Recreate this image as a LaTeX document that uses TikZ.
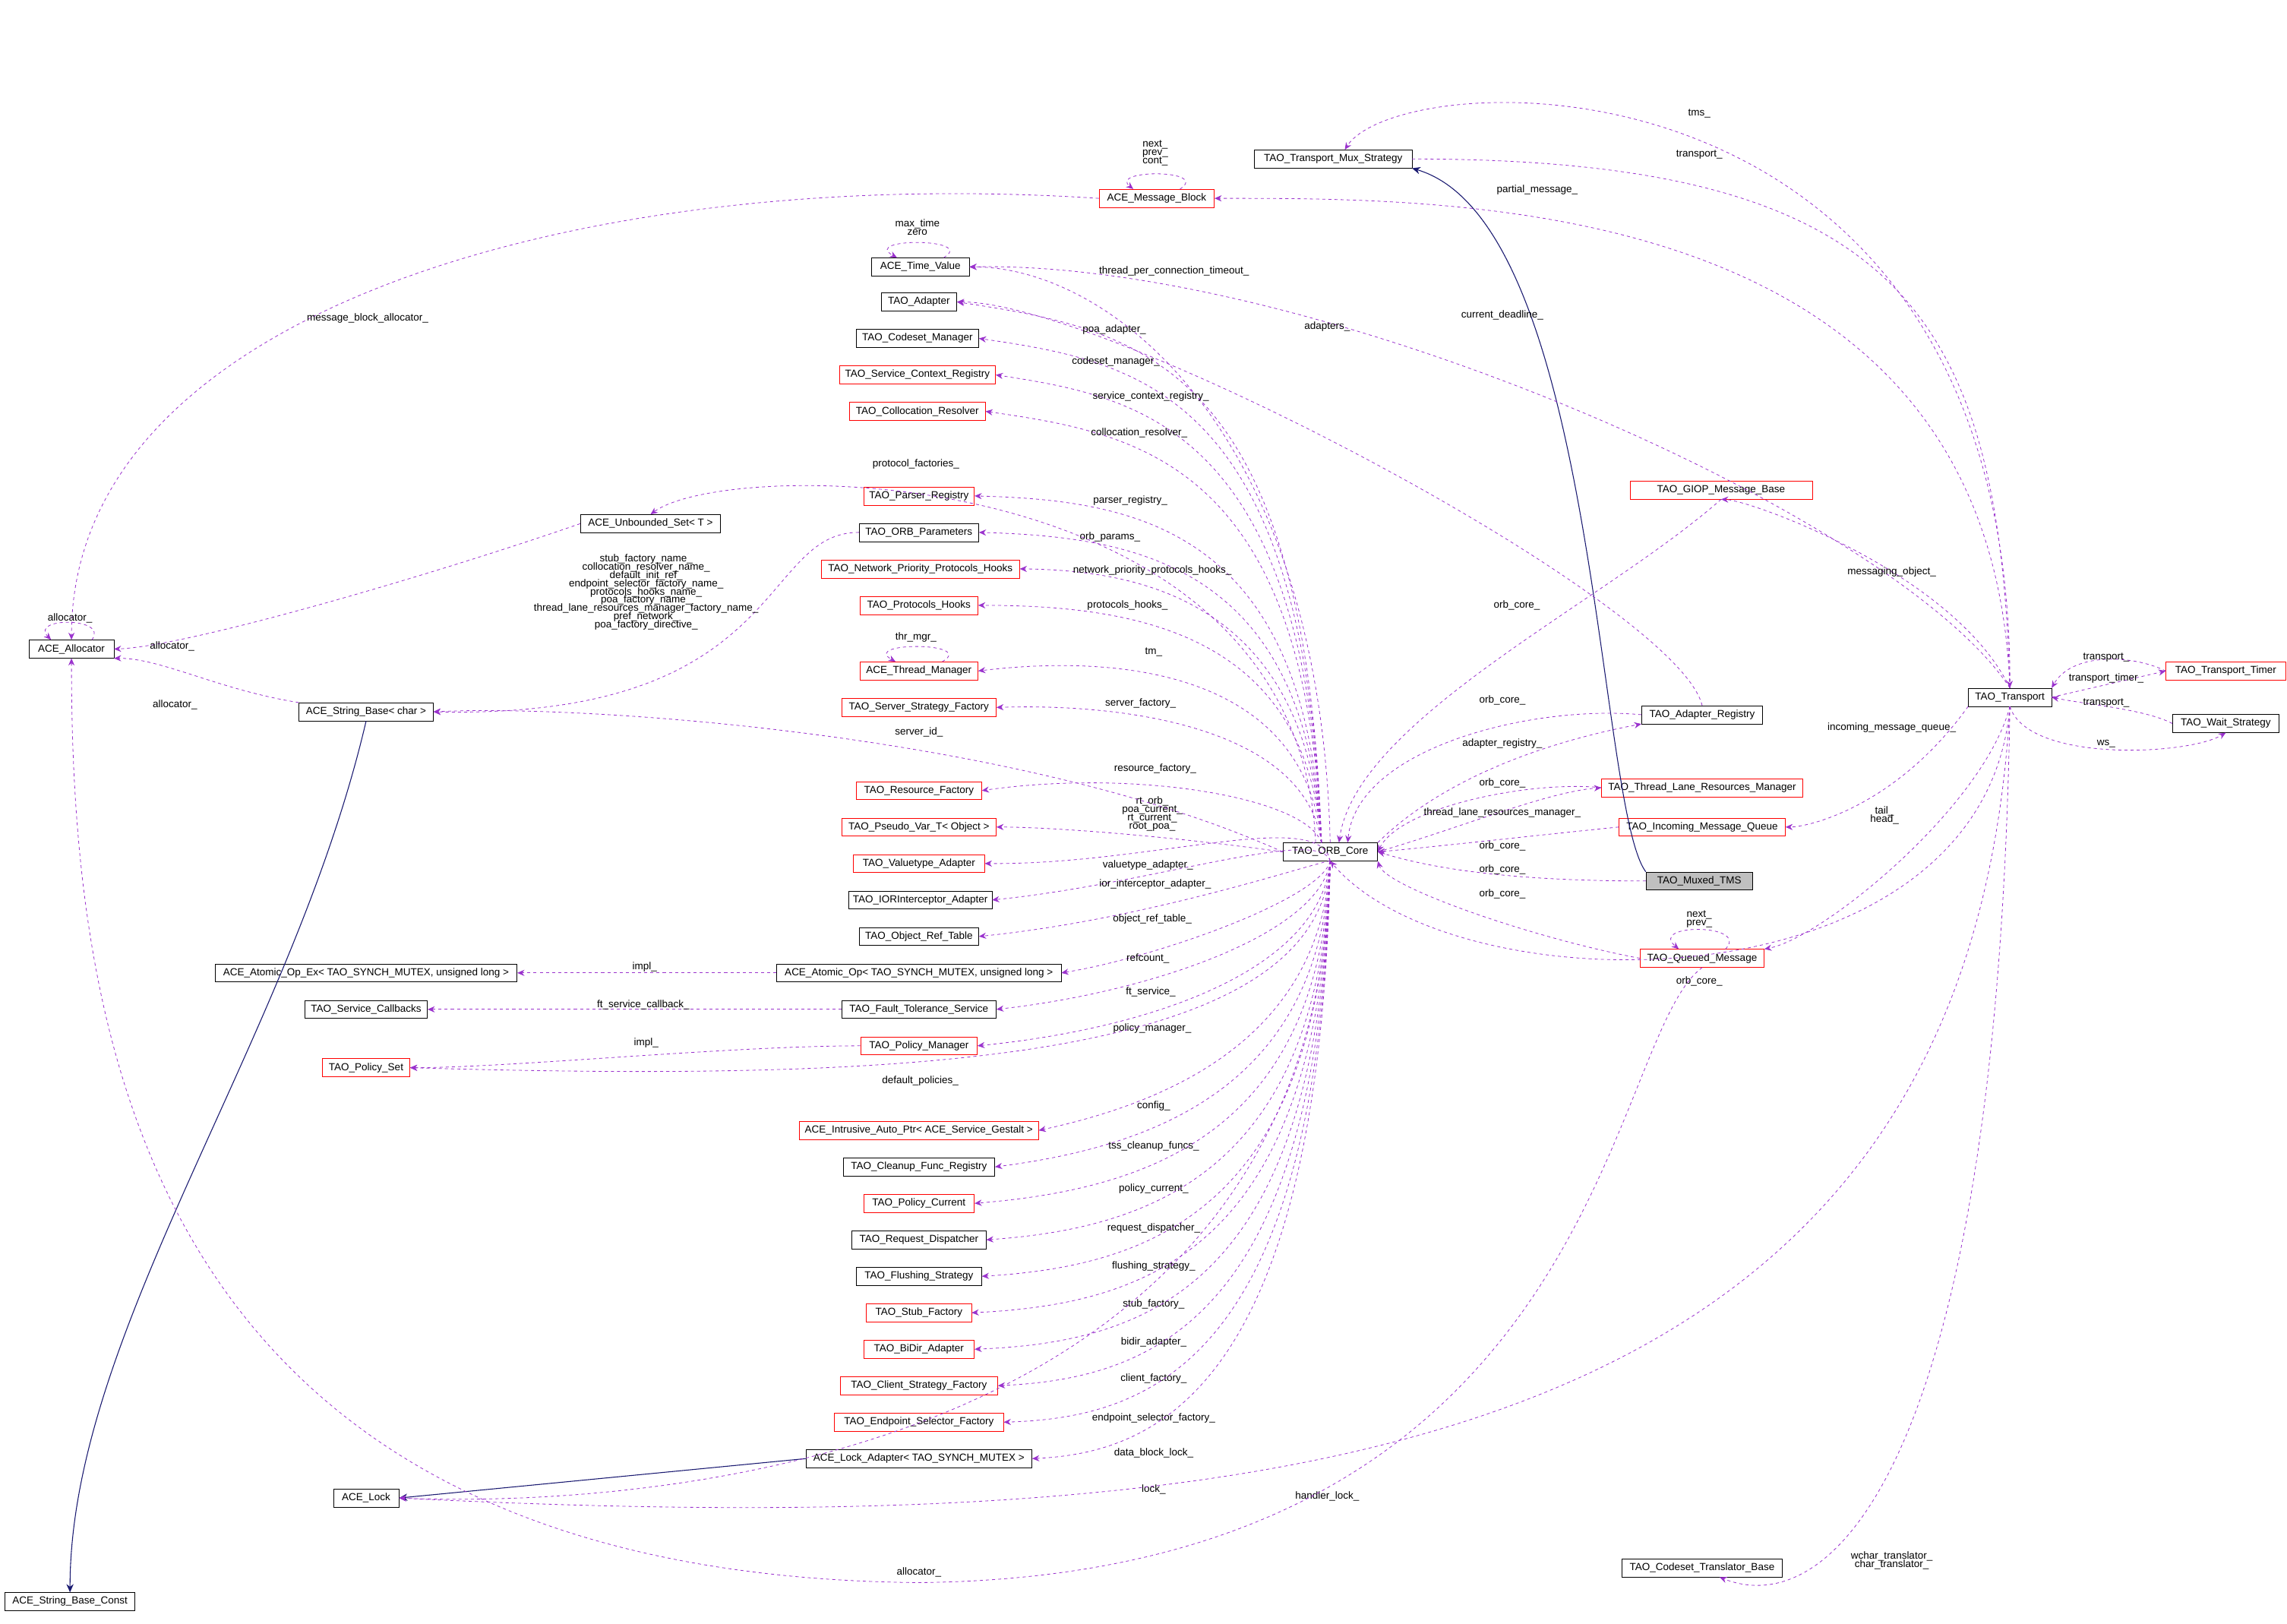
\documentclass[tikz,border=0pt]{standalone}
\usepackage{fontspec}
\setmainfont{Liberation Sans}
\usetikzlibrary{arrows.meta}
\definecolor{purp}{HTML}{9A32CD}
\definecolor{navyc}{HTML}{191970}
\newcommand{\lblfont}{\fontsize{10}{11}\selectfont}
\tikzset{
 cls/.style={draw=black, minimum height=0.62cm, inner sep=1pt, font=\lblfont, fill=white},
 redbox/.style={cls, draw=red},
 mem/.style={draw=purp, dashed, line width=0.6pt, -{Stealth[length=7pt,width=6pt]}},
 inh/.style={draw=navyc, line width=0.8pt, -{Stealth[length=8pt,width=7pt]}},
 lb/.style={font=\lblfont, inner sep=0pt, align=center}
}
\begin{document}
\begin{tikzpicture}[x=0.05cm,y=0.05cm]
\useasboundingbox (0,0) rectangle (1568,1113);
% nodes
\node[cls,minimum width=5.4cm] (mux) at (914,1004) {TAO\_Transport\_Mux\_Strategy};
\node[redbox,minimum width=3.95cm] (mb) at (793,977) {ACE\_Message\_Block};
\node[cls,minimum width=3.35cm] (tv) at (631,930) {ACE\_Time\_Value};
\node[cls,minimum width=2.6cm] (ad) at (630,906) {TAO\_Adapter};
\node[cls,minimum width=4.2cm] (csm) at (629,881) {TAO\_Codeset\_Manager};
\node[redbox,minimum width=5.35cm] (scr) at (629,856) {TAO\_Service\_Context\_Registry};
\node[redbox,minimum width=4.65cm] (cr) at (629,831) {TAO\_Collocation\_Resolver};
\node[cls,minimum width=4.8cm] (us) at (446,754) {ACE\_Unbounded\_Set< T >};
\node[redbox,minimum width=3.8cm] (pr) at (630,773) {TAO\_Parser\_Registry};
\node[cls,minimum width=4.1cm] (op) at (630,748) {TAO\_ORB\_Parameters};
\node[redbox,minimum width=6.8cm] (npph) at (631,723) {TAO\_Network\_Priority\_Protocols\_Hooks};
\node[redbox,minimum width=4.05cm] (ph) at (630,698) {TAO\_Protocols\_Hooks};
\node[redbox,minimum width=4.05cm] (thm) at (630,653) {ACE\_Thread\_Manager};
\node[redbox,minimum width=5.3cm] (ssf) at (630,628) {TAO\_Server\_Strategy\_Factory};
\node[redbox,minimum width=4.3cm] (rf) at (630,571) {TAO\_Resource\_Factory};
\node[redbox,minimum width=5.3cm] (pv) at (630,546) {TAO\_Pseudo\_Var\_T< Object >};
\node[redbox,minimum width=4.5cm] (va) at (630,521) {TAO\_Valuetype\_Adapter};
\node[cls,minimum width=4.9cm] (ior) at (631,496) {TAO\_IORInterceptor\_Adapter};
\node[cls,minimum width=4.1cm] (ort) at (630,471) {TAO\_Object\_Ref\_Table};
\node[cls,minimum width=10.35cm] (aox) at (251,446) {ACE\_Atomic\_Op\_Ex< TAO\_SYNCH\_MUTEX, unsigned long >};
\node[cls,minimum width=9.75cm] (ao) at (630,446) {ACE\_Atomic\_Op< TAO\_SYNCH\_MUTEX, unsigned long >};
\node[cls,minimum width=4.2cm] (sc) at (251,421) {TAO\_Service\_Callbacks};
\node[cls,minimum width=5.3cm] (fts) at (630,421) {TAO\_Fault\_Tolerance\_Service};
\node[redbox,minimum width=4cm] (pm) at (630,396) {TAO\_Policy\_Manager};
\node[redbox,minimum width=3cm] (ps) at (251,381) {TAO\_Policy\_Set};
\node[redbox,minimum width=8.2cm] (iap) at (630,338) {ACE\_Intrusive\_Auto\_Ptr< ACE\_Service\_Gestalt >};
\node[cls,minimum width=5.2cm] (cfr) at (630,313) {TAO\_Cleanup\_Func\_Registry};
\node[redbox,minimum width=3.8cm] (pc) at (630,288) {TAO\_Policy\_Current};
\node[cls,minimum width=4.6cm] (rd) at (630,263) {TAO\_Request\_Dispatcher};
\node[cls,minimum width=4.3cm] (fs) at (630,238) {TAO\_Flushing\_Strategy};
\node[redbox,minimum width=3.6cm] (sf) at (630,213) {TAO\_Stub\_Factory};
\node[redbox,minimum width=3.8cm] (bd) at (630,188) {TAO\_BiDir\_Adapter};
\node[redbox,minimum width=5.4cm] (csf) at (630,163) {TAO\_Client\_Strategy\_Factory};
\node[redbox,minimum width=5.8cm] (esf) at (630,138) {TAO\_Endpoint\_Selector\_Factory};
\node[cls,minimum width=7.75cm] (la) at (630,113) {ACE\_Lock\_Adapter< TAO\_SYNCH\_MUTEX >};
\node[cls,minimum width=2.25cm] (lock) at (251,86) {ACE\_Lock};
\node[cls,minimum width=4.45cm] (sbc) at (48,15) {ACE\_String\_Base\_Const};
\node[cls,minimum width=2.9cm] (alloc) at (49,668) {ACE\_Allocator};
\node[cls,minimum width=4.6cm] (sb) at (251,625) {ACE\_String\_Base< char >};
\node[cls,minimum width=3.25cm] (orb) at (912,529) {TAO\_ORB\_Core};
\node[redbox,minimum width=6.25cm] (giop) at (1180,777) {TAO\_GIOP\_Message\_Base};
\node[cls,minimum width=4.15cm] (areg) at (1167,623) {TAO\_Adapter\_Registry};
\node[redbox,minimum width=6.9cm] (tlrm) at (1167,573) {TAO\_Thread\_Lane\_Resources\_Manager};
\node[redbox,minimum width=5.7cm] (imq) at (1167,546) {TAO\_Incoming\_Message\_Queue};
\node[cls,fill=black!25,minimum width=3.65cm] (tms) at (1165,509) {TAO\_Muxed\_TMS};
\node[redbox,minimum width=4.25cm] (qm) at (1167,456) {TAO\_Queued\_Message};
\node[cls,minimum width=2.85cm] (tr) at (1378,635) {TAO\_Transport};
\node[redbox,minimum width=4.1cm] (tt) at (1526,653) {TAO\_Transport\_Timer};
\node[cls,minimum width=3.65cm] (ws) at (1526,617) {TAO\_Wait\_Strategy};
\node[cls,minimum width=5.5cm] (ctb) at (1167,38) {TAO\_Codeset\_Translator\_Base};
\coordinate (bot) at (630,28);

% inheritance
\draw[inh] (tms.north west) .. controls (1095,560) and (1095,960) .. (mux.south east);
\draw[inh] (sb.south) .. controls (200,400) and (48,200) .. (sbc.north);
\draw[inh] (la.west) -- (lock.east);

% transport area
\draw[mem] (tr.north) .. controls (1380,1090) and (960,1070) .. ([xshift=0.4cm]mux.north);
\node[lb] at (1165,1035) {tms\_};
\draw[mem] (mux.east) .. controls (1300,1004) and (1370,900) .. (tr.north);
\node[lb] at (1165,1007) {transport\_};
\draw[mem] (tr.north) .. controls (1365,980) and (1000,977) .. (mb.east);
\node[lb] at (1054,983) {partial\_message\_};
\draw[mem] ([xshift=0.8cm]mb.north) .. controls (830,997) and (760,997) .. ([xshift=-0.8cm]mb.north);
\node[lb] at (792,1008) {next\_\\[-3pt]prev\_\\[-3pt]cont\_};
\draw[mem] ([xshift=0.8cm]tv.north) .. controls (670,950) and (590,950) .. ([xshift=-0.8cm]tv.north);
\node[lb] at (629,957) {max\_time\\[-3pt]zero};
\draw[mem] (orb.north) .. controls (905,820) and (760,930) .. (tv.east);
\node[lb] at (805,927) {thread\_per\_connection\_timeout\_};
\draw[mem] (tr.north) .. controls (1300,760) and (900,935) .. (tv.east);
\node[lb] at (1030,897) {current\_deadline\_};
\draw[mem] (areg.north) .. controls (1150,700) and (760,906) .. (ad.east);
\node[lb] at (910,889) {adapters\_};

% orb fan up
\foreach \t/\l/\lx/\ly in {ad/poa\_adapter\_/764/887, csm/codeset\_manager\_/765/865, scr/service\_context\_registry\_/789/841, cr/collocation\_resolver\_/781/816, pr/parser\_registry\_/775/770, op/orb\_params\_/761/745, npph/network\_priority\_protocols\_hooks\_/790/722, ph/protocols\_hooks\_/773/698, thm/tm\_/791/666, ssf/server\_factory\_/782/631, rf/resource\_factory\_/792/586}{
 \draw[mem] ([xshift=-0.3cm]orb.north) .. controls (895,\ly-20) and (780,\ly) .. (\t.east);
 \node[lb] at (\lx,\ly) {\l};
}
\draw[mem] (orb.west) .. controls (800,540) and (720,546) .. (pv.east);
\node[lb] at (790,555) {rt\_orb\_\\[-3pt]poa\_current\_\\[-3pt]rt\_current\_\\[-3pt]root\_poa\_};
\draw[mem] ([xshift=0.8cm]thm.north) .. controls (670,673) and (590,673) .. ([xshift=-0.8cm]thm.north);
\node[lb] at (628,676) {thr\_mgr\_};
\draw[mem] ([xshift=-0.5cm]orb.north) .. controls (890,800) and (500,800) .. (us.north);
\node[lb] at (628,795) {protocol\_factories\_};
\draw[mem] (orb.west) .. controls (700,610) and (400,630) .. (sb.east);
\node[lb] at (630,611) {server\_id\_};

% orb fan down
\foreach \t/\l/\lx/\ly in {va/valuetype\_adapter\_/787/520, ior/ior\_interceptor\_adapter\_/792/507, ort/object\_ref\_table\_/790/483, ao/refcount\_/787/456, fts/ft\_service\_/789/433, pm/policy\_manager\_/790/408, iap/config\_/791/355, cfr/tss\_cleanup\_funcs\_/791/327, pc/policy\_current\_/791/298, rd/request\_dispatcher\_/791/271, fs/flushing\_strategy\_/791/245, sf/stub\_factory\_/791/219, bd/bidir\_adapter\_/791/193, csf/client\_factory\_/791/168, esf/endpoint\_selector\_factory\_/791/141, la/data\_block\_lock\_/791/117}{
 \draw[mem] (orb.south) .. controls (905,\ly+40) and (790,\ly) .. (\t.east);
 \node[lb] at (\lx,\ly) {\l};
}
\draw[mem] (orb.south) .. controls (905,380) and (600,372) .. (ps.east);
\node[lb] at (631,372) {default\_policies\_};
\draw[mem] (orb.south) .. controls (905,100) and (420,80) .. (lock.east);
\node[lb] at (791,92) {lock\_};

% left side
\draw[mem] (mb.west) .. controls (400,1000) and (49,900) .. (alloc.north);
\node[lb] at (252,895) {message\_block\_allocator\_};
\draw[mem] (us.west) .. controls (300,720) and (130,670) .. (alloc.east);
\node[lb] at (118,670) {allocator\_};
\draw[mem] (sb.north west) .. controls (150,640) and (110,662) .. (alloc.south east);
\node[lb] at (120,630) {allocator\_};
\draw[mem] ([xshift=0.7cm]alloc.north) .. controls (75,690) and (20,690) .. ([xshift=-0.7cm]alloc.north);
\node[lb] at (48,689) {allocator\_};
\draw[mem] (op.west) .. controls (520,748) and (540,620) .. (sb.east);
\node[lb] at (443,707) {stub\_factory\_name\_\\[-3pt]collocation\_resolver\_name\_\\[-3pt]default\_init\_ref\_\\[-3pt]endpoint\_selector\_factory\_name\_\\[-3pt]protocols\_hooks\_name\_\\[-3pt]poa\_factory\_name\_\\[-3pt]thread\_lane\_resources\_manager\_factory\_name\_\\[-3pt]pref\_network\_\\[-3pt]poa\_factory\_directive\_};
\draw[mem] (ao.west) -- (aox.east);
\node[lb] at (442,450) {impl\_};
\draw[mem] (fts.west) -- (sc.east);
\node[lb] at (441,424) {ft\_service\_callback\_};
\draw[mem] (pm.west) .. controls (500,396) and (350,381) .. (ps.east);
\node[lb] at (443,398) {impl\_};

% right-side to orb
\draw[mem] (giop.south) .. controls (1100,700) and (930,620) .. ([xshift=0.3cm]orb.north);
\node[lb] at (1040,698) {orb\_core\_};
\draw[mem] (tr.north) .. controls (1340,720) and (1200,770) .. (giop.south);
\node[lb] at (1297,721) {messaging\_object\_};
\draw[mem] (areg.west) .. controls (1050,630) and (930,600) .. ([xshift=0.6cm]orb.north);
\node[lb] at (1030,633) {orb\_core\_};
\draw[mem] (orb.north east) .. controls (1000,590) and (1090,610) .. (areg.south west);
\node[lb] at (1030,603) {adapter\_registry\_};
\draw[mem] (tlrm.west) .. controls (1050,578) and (960,560) .. (orb.east);
\node[lb] at (1030,576) {orb\_core\_};
\draw[mem] (orb.east) .. controls (1000,545) and (1060,570) .. (tlrm.west);
\node[lb] at (1030,556) {thread\_lane\_resources\_manager\_};
\draw[mem] (imq.west) .. controls (1050,540) and (980,532) .. (orb.east);
\node[lb] at (1030,533) {orb\_core\_};
\draw[mem] (tr.south west) .. controls (1300,560) and (1240,546) .. (imq.east);
\node[lb] at (1297,614) {incoming\_message\_queue\_};
\draw[mem] (tms.west) .. controls (1050,509) and (990,515) .. (orb.east);
\node[lb] at (1030,517) {orb\_core\_};
\draw[mem] (qm.west) .. controls (1050,470) and (950,505) .. (orb.south east);
\node[lb] at (1030,500) {orb\_core\_};
\draw[mem] (tr.south) .. controls (1360,560) and (1250,470) .. (qm.north east);
\node[lb] at (1292,554) {tail\_\\[-3pt]head\_};
\draw[mem] ([xshift=0.8cm]qm.north) .. controls (1200,480) and (1130,480) .. ([xshift=-0.8cm]qm.north);
\node[lb] at (1165,483) {next\_\\[-3pt]prev\_};
\draw[mem] (tr.south) .. controls (1360,420) and (1000,420) .. (orb.south);
\node[lb] at (1165,440) {orb\_core\_};
\draw[mem] (tt.west) .. controls (1460,665) and (1420,665) .. (tr.north east);
\node[lb] at (1444,662) {transport\_};
\draw[mem] (tr.east) -- (tt.west);
\node[lb] at (1444,648) {transport\_timer\_};
\draw[mem] (ws.west) .. controls (1470,627) and (1430,630) .. (tr.east);
\node[lb] at (1444,631) {transport\_};
\draw[mem] (tr.south) .. controls (1390,590) and (1500,595) .. (ws.south);
\node[lb] at (1444,603) {ws\_};
\draw[mem] (tr.south) .. controls (1370,120) and (1260,0) .. ([xshift=0.6cm]ctb.south);
\node[lb] at (1297,43) {wchar\_translator\_\\[-3pt]char\_translator\_};
\draw[mem] (tr.south) .. controls (1350,120) and (900,55) .. (lock.east);
\node[lb] at (910,87) {handler\_lock\_};
\draw[mem] (qm.south) .. controls (1100,400) and (1100,33) .. (bot) .. controls (100,33) and (49,400) .. (alloc.south);
\node[lb] at (630,35) {allocator\_};
\end{tikzpicture}
\end{document}
